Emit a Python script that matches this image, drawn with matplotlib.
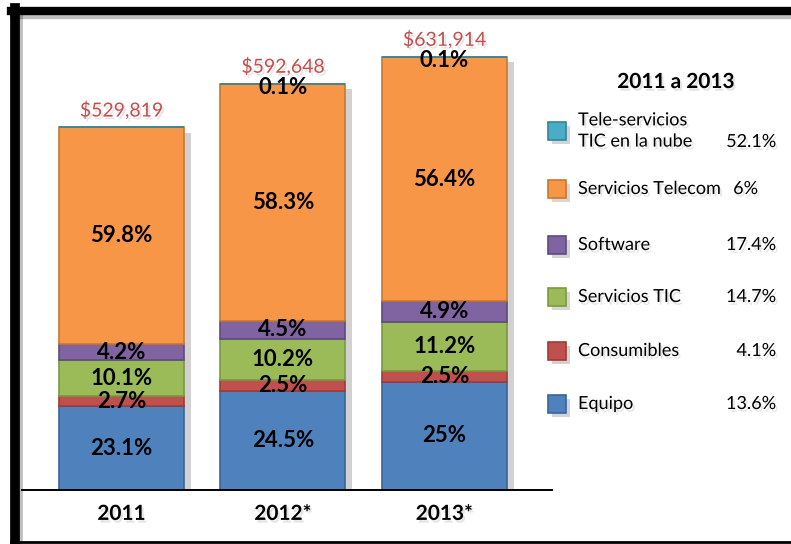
import numpy as np
import matplotlib.pyplot as plt
import matplotlib.patheffects as pe
from matplotlib.patches import Rectangle
from matplotlib.lines import Line2D

plt.rcParams['font.family'] = ['Lato', 'DejaVu Sans']

# Datos: mercado TIC por año (total) y participación de cada segmento (%)
years = ['2011', '2012*', '2013*']
totals = [529819, 592648, 631914]
segments = ['Equipo', 'Consumibles', 'Servicios TIC', 'Software',
            'Servicios Telecom', 'Tele-servicios\nTIC en la nube']
shares = {
    'Equipo':            [23.1, 24.5, 25.0],
    'Consumibles':       [2.7, 2.5, 2.5],
    'Servicios TIC':     [10.1, 10.2, 11.2],
    'Software':          [4.2, 4.5, 4.9],
    'Servicios Telecom': [59.8, 58.3, 56.4],
    'Tele-servicios\nTIC en la nube': [0.0, 0.1, 0.1],
}
growth = ['13.6%', '4.1%', '14.7%', '17.4%', '6%', '52.1%']
share_labels = {
    'Equipo':            ['23.1%', '24.5%', '25%'],
    'Consumibles':       ['2.7%', '2.5%', '2.5%'],
    'Servicios TIC':     ['10.1%', '10.2%', '11.2%'],
    'Software':          ['4.2%', '4.5%', '4.9%'],
    'Servicios Telecom': ['59.8%', '58.3%', '56.4%'],
    'Tele-servicios\nTIC en la nube': ['', '0.1%', '0.1%'],
}

colors = ['#4F81BD', '#C0504D', '#9BBB59', '#8064A2', '#F79646', '#4BACC6']
edges = ['#3A659A', '#9E3B38', '#7A9A42', '#5F4A80', '#C87830', '#31859C']

W, H = 791, 544
fig = plt.figure(figsize=(W / 100, H / 100), dpi=100)
fig.patch.set_facecolor('white')

ax = fig.add_axes([22 / W, (H - 490) / H, (552 - 22) / W, (490 - 20) / H])
ax.set_xlim(-0.616, 2.666)
ax.set_ylim(0, 686000)
for s in ['top', 'right', 'left']:
    ax.spines[s].set_visible(False)
ax.spines['bottom'].set_linewidth(1.4)
ax.spines['bottom'].set_zorder(5)
ax.set_yticks([])
ax.tick_params(axis='x', length=0, pad=10)
ax.set_xticks(range(len(years)))
ax.set_xticklabels(years, fontsize=15, fontweight='bold')

bar_shadow = [pe.SimplePatchShadow(offset=(5, -4), alpha=0.18, shadow_rgbFace='k'), pe.Normal()]
txt_shadow = [pe.SimplePatchShadow(offset=(1.5, -2), alpha=0.10, shadow_rgbFace='k'), pe.Normal()]
for t in ax.get_xticklabels():
    t.set_path_effects(txt_shadow)

x = np.arange(len(years))
width = 0.774

# sombra de cada columna completa, detrás de los segmentos
stack_tops = np.array(totals) * np.array(
    [sum(shares[s][i] for s in segments) for i in range(len(years))]) / 100
shade = ax.bar(x, stack_tops, width, color='white', linewidth=0, zorder=1)
for b in shade:
    b.set_path_effects(bar_shadow)

bottom = np.zeros(len(years))
for seg, c, ec in zip(segments, colors, edges):
    vals = np.array(shares[seg]) / 100 * np.array(totals)
    ax.bar(x, vals, width, bottom=bottom, color=c, edgecolor=ec,
           linewidth=1.2, zorder=2)
    for i, lab in enumerate(share_labels[seg]):
        if not lab:
            continue
        if seg.startswith('Tele'):
            yc = bottom[i] + vals[i] - 6000
        else:
            yc = bottom[i] + vals[i] / 2
        ax.text(x[i], yc, lab, ha='center', va='center', fontsize=16,
                fontweight='bold', color='black', zorder=4)
    bottom += vals

for i, tot in enumerate(totals):
    ax.text(x[i], stack_tops[i] + 25000, '${:,}'.format(tot), ha='center',
            va='center', fontsize=14, color='#C0504D', zorder=4,
            path_effects=txt_shadow)

# Leyenda con la tasa de crecimiento 2011 a 2013
fig.text(676 / W, 1 - 82 / H, '2011 a 2013', ha='center', va='center',
         fontsize=15, fontweight='bold', path_effects=txt_shadow)
rows_y = [404, 351, 297, 245, 189, 131]
for seg, c, ec, g, yy in zip(segments, colors, edges, growth, rows_y):
    sq = Rectangle((548 / W, 1 - (yy + 9) / H), 18 / W, 18 / H,
                   transform=fig.transFigure, facecolor=c, edgecolor=ec,
                   linewidth=1.2,
                   path_effects=[pe.SimplePatchShadow(offset=(3, -3), alpha=0.2), pe.Normal()])
    fig.patches.append(sq)
    fig.text(578 / W, 1 - yy / H, seg, ha='left', va='center', fontsize=13,
             linespacing=1.4, path_effects=txt_shadow)
    if seg == 'Servicios Telecom':
        fig.text(758 / W, 1 - yy / H, g, ha='right', va='center', fontsize=13,
                 path_effects=txt_shadow)
    else:
        gy = yy + 11 if seg.startswith('Tele') else yy
        fig.text(776 / W, 1 - gy / H, g, ha='right', va='center', fontsize=13,
                 path_effects=txt_shadow)

# Marco negro
frame = [
    Line2D([11 / W, 1], [1 - 11 / H, 1 - 11 / H], lw=6, color='black'),
    Line2D([15 / W, 15 / W], [1 - 8 / H, 1 - 543 / H], lw=7, color='black'),
    Line2D([11 / W, 1], [1 - 542 / H, 1 - 542 / H], lw=2, color='black'),
]
for ln in frame:
    ln.set_transform(fig.transFigure)
    ln.set_path_effects([pe.SimpleLineShadow(offset=(2, -3), alpha=0.25), pe.Normal()])
    fig.lines.append(ln)

fig.savefig('out.png', dpi=100)
